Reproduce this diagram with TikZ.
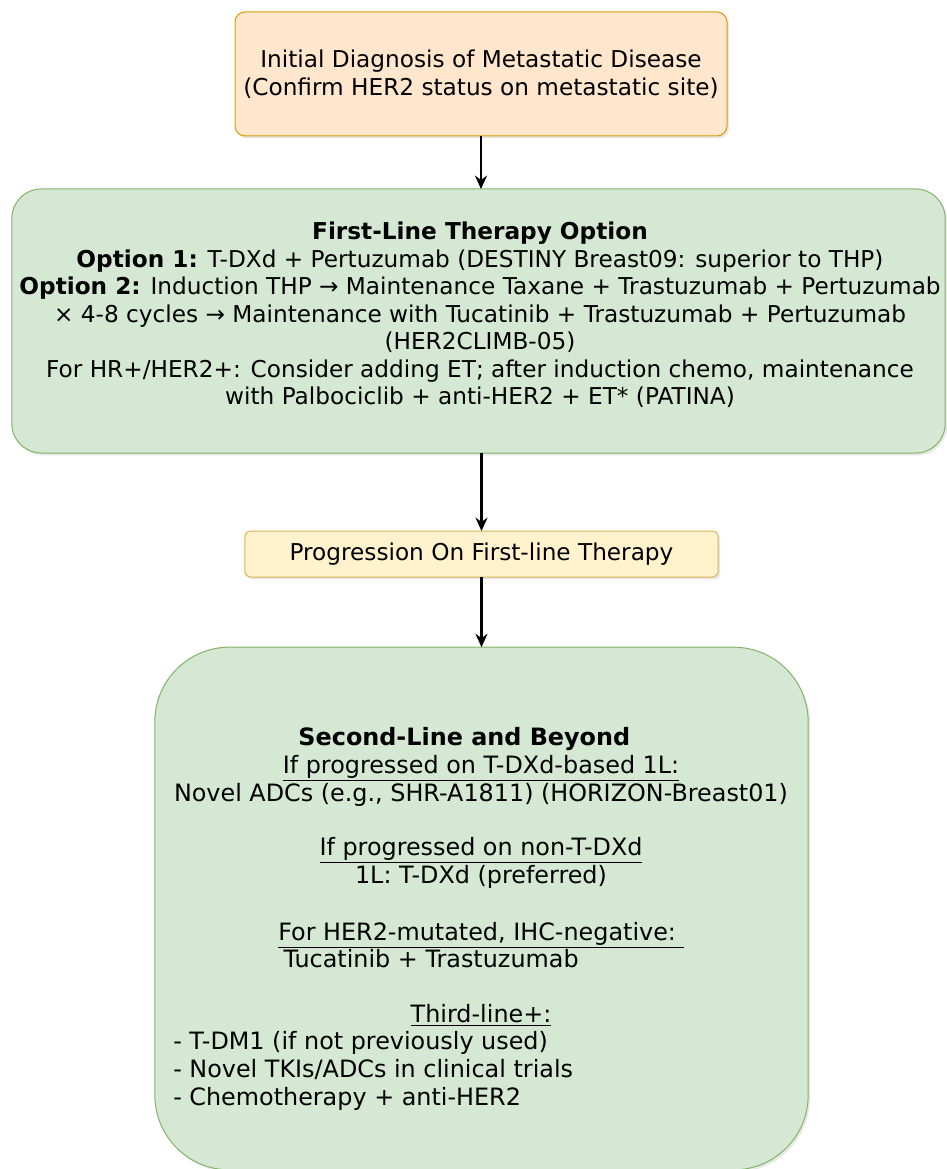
\documentclass[tikz,border=0pt]{standalone}
\usepackage{fontspec}
\setmainfont{DejaVu Sans}
\usetikzlibrary{arrows.meta, positioning, shadows}

\definecolor{peachfill}{HTML}{FFE6CC}
\definecolor{peachline}{HTML}{D79B00}
\definecolor{greenfill}{HTML}{D5E8D4}
\definecolor{greenline}{HTML}{82B366}
\definecolor{yellowfill}{HTML}{FFF2CC}
\definecolor{yellowline}{HTML}{D6B656}

\begin{document}
\begin{tikzpicture}[
    x=0.75pt, y=-0.75pt,
    arr/.style={-{Stealth[length=10pt, width=9pt]}, line width=1.8pt},
    box/.style={rectangle, draw, line width=0.75pt, inner sep=0pt, outer sep=0pt,
        drop shadow={shadow xshift=1.5pt, shadow yshift=-1.8pt, opacity=0.18}},
    txt/.style={font=\fontsize{17.4}{20.6}\selectfont, inner sep=0pt, align=center},
    bodytxt/.style={txt, font=\fontsize{17.9}{20.7}\selectfont},
]
\useasboundingbox (0,0) rectangle (946,1169);

% Boxes
\node[box, txt, fill=peachfill, draw=peachline, rounded corners=7.5pt,
      minimum width=369pt, minimum height=93pt] (diag) at (481,74)
    {Initial Diagnosis of Metastatic Disease\\(Confirm HER2 status on metastatic site)};

\node[box, fill=greenfill, draw=greenline, rounded corners=22pt,
      minimum width=700pt, minimum height=198pt] (first) at (478.5,321) {};

\node[box, txt, fill=yellowfill, draw=yellowline, rounded corners=4.5pt,
      minimum width=355pt, minimum height=34.5pt] (prog) at (481.5,554)
    {Progression On First-line Therapy};

\node[box, fill=greenfill, draw=greenline, rounded corners=56pt,
      minimum width=490pt, minimum height=392pt] (second) at (481.5,908.5) {};

% First-line text
\node[txt] (firsttxt) at (480,315) {%
    \textbf{First-Line Therapy Option}\\
    \textbf{Option 1:} T-DXd + Pertuzumab (DESTINY Breast09: superior to THP)\\
    \textbf{Option 2:} Induction THP → Maintenance Taxane + Trastuzumab + Pertuzumab\\
    × 4-8 cycles → Maintenance with Tucatinib + Trastuzumab + Pertuzumab\\
    (HER2CLIMB-05)\\
    For HR+/HER2+: Consider adding ET; after induction chemo, maintenance\\
    with Palbociclib + anti-HER2 + ET* (PATINA)};

% Second-line text
\node[bodytxt] (secA) at (481,767) {%
    \textbf{Second-Line and Beyond}\hspace*{25pt}\\
    \underline{If progressed on T-DXd-based 1L:}\\
    Novel ADCs (e.g., SHR-A1811) (HORIZON-Breast01)};
\node[bodytxt] (secB) at (481,863) {%
    \underline{If progressed on non-T-DXd}\\
    1L: T-DXd (preferred)};
\node[bodytxt, align=left, anchor=west] (secC) at (278,945) {%
    \underline{For HER2-mutated, IHC-negative:\ }\\
    \hspace*{4pt}Tucatinib + Trastuzumab};
\node[bodytxt] (thirdhd) at (481,1015) {\underline{Third-line+:}};
\node[bodytxt, align=left, anchor=west] (thirdlist) at (173,1071) {%
    - T-DM1 (if not previously used)\\
    - Novel TKIs/ADCs in clinical trials\\
    - Chemotherapy + anti-HER2};

% Connectors
\draw[arr] (diag.south) -- (diag.south |- first.north);
\draw[arr] (prog.north |- first.south) -- (prog.north);
\draw[arr] (prog.south) -- (prog.south |- second.north);

\end{tikzpicture}
\end{document}
